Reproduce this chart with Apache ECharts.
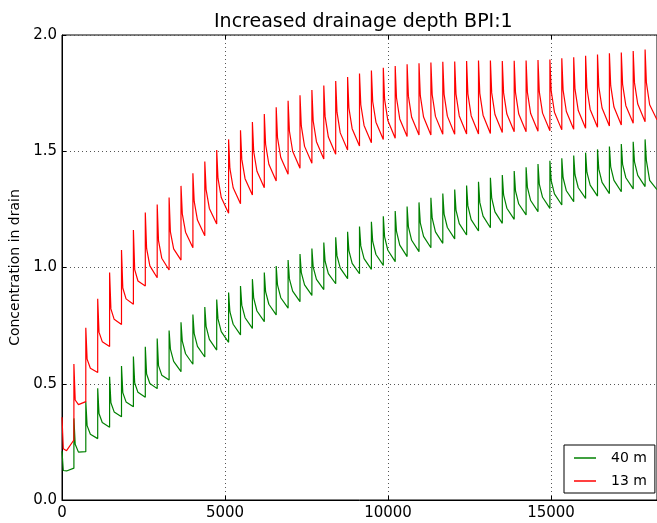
<!DOCTYPE html>
<html>
<head>
<meta charset="utf-8">
<script src="https://cdn.jsdelivr.net/npm/echarts@6/dist/echarts.min.js"></script>
<style>
html,body{margin:0;padding:0;background:#fff;}
#chart{width:657px;height:523px;}
</style>
</head>
<body>
<div id="chart"></div>
<script>
// Sampling days within each yearly cycle (spike at day 0, next spike at day 365)
const dayOffsets = [0, 40, 140, 365];
const yearLength = 365;

// 13 m series: per-year values at day 0 (peak), 40, 140, 365 (just before next spike)
const redPeak = [0.356,0.585,0.741,0.866,0.978,1.075,1.161,1.237,1.271,1.301,1.351,1.405,1.456,1.505,1.551,1.590,1.626,1.660,1.689,1.717,1.741,1.763,1.783,1.802,1.819,1.834,1.847,1.859,1.867,1.874,1.878,1.882,1.885,1.886,1.888,1.890,1.890,1.888,1.889,1.890,1.892,1.895,1.900,1.904,1.911,1.916,1.921,1.925,1.931,1.938];
const redD40 = [0.220,0.430,0.606,0.722,0.822,0.912,0.991,1.082,1.116,1.153,1.231,1.284,1.335,1.383,1.426,1.465,1.499,1.530,1.559,1.587,1.609,1.630,1.650,1.668,1.686,1.700,1.714,1.723,1.730,1.737,1.739,1.743,1.745,1.746,1.747,1.749,1.751,1.751,1.752,1.753,1.755,1.759,1.763,1.767,1.772,1.778,1.782,1.788,1.794,1.795];
const redD140 = [0.212,0.410,0.567,0.681,0.777,0.865,0.942,1.007,1.040,1.080,1.152,1.204,1.254,1.301,1.343,1.382,1.414,1.444,1.473,1.500,1.521,1.541,1.561,1.579,1.597,1.611,1.625,1.632,1.639,1.646,1.647,1.650,1.651,1.652,1.653,1.655,1.658,1.660,1.660,1.662,1.664,1.668,1.671,1.675,1.680,1.686,1.690,1.696,1.703,1.700];
const redEnd = [0.258,0.423,0.548,0.660,0.755,0.842,0.920,0.956,0.989,1.032,1.085,1.137,1.187,1.233,1.274,1.312,1.343,1.372,1.401,1.427,1.448,1.467,1.487,1.505,1.523,1.537,1.551,1.556,1.563,1.570,1.570,1.573,1.573,1.574,1.574,1.576,1.581,1.584,1.584,1.586,1.588,1.592,1.595,1.599,1.603,1.609,1.613,1.620,1.627,1.635];

// 40 m series
const greenPeak = [0.210,0.351,0.423,0.481,0.530,0.576,0.617,0.659,0.695,0.729,0.764,0.798,0.830,0.862,0.892,0.920,0.950,0.978,1.006,1.032,1.058,1.082,1.107,1.130,1.154,1.176,1.197,1.220,1.243,1.262,1.280,1.300,1.318,1.335,1.353,1.369,1.386,1.398,1.415,1.431,1.445,1.459,1.470,1.482,1.494,1.508,1.520,1.531,1.541,1.551];
const greenD40 = [0.127,0.240,0.320,0.372,0.418,0.462,0.503,0.542,0.578,0.649,0.683,0.716,0.747,0.779,0.810,0.838,0.868,0.896,0.925,0.951,0.978,1.002,1.027,1.050,1.073,1.093,1.112,1.132,1.155,1.175,1.192,1.212,1.230,1.247,1.265,1.280,1.298,1.312,1.330,1.345,1.359,1.374,1.386,1.399,1.410,1.423,1.433,1.444,1.454,1.460];
const greenD140 = [0.125,0.206,0.283,0.333,0.379,0.422,0.463,0.501,0.537,0.596,0.629,0.661,0.691,0.724,0.756,0.784,0.813,0.842,0.870,0.898,0.925,0.949,0.974,0.997,1.018,1.038,1.056,1.074,1.096,1.117,1.134,1.153,1.172,1.189,1.206,1.221,1.239,1.255,1.273,1.288,1.302,1.317,1.330,1.343,1.354,1.366,1.375,1.386,1.396,1.375];
const greenEnd = [0.137,0.208,0.264,0.313,0.358,0.401,0.442,0.479,0.516,0.552,0.584,0.615,0.645,0.678,0.710,0.738,0.767,0.796,0.825,0.853,0.880,0.905,0.930,0.952,0.973,0.992,1.009,1.025,1.047,1.068,1.085,1.104,1.123,1.140,1.157,1.171,1.190,1.207,1.226,1.240,1.254,1.269,1.283,1.297,1.307,1.318,1.326,1.338,1.348,1.335];

const seriesNames = ['40 m', '13 m'];
const xTicks = [0, 5000, 10000, 15000];
const yTicks = ['0.0', '0.5', '1.0', '1.5', '2.0'];

function buildPoints(peak, d40, d140, end) {
  const pts = [];
  for (let i = 0; i < peak.length; i++) {
    const t0 = i * yearLength;
    const vals = [peak[i], d40[i], d140[i], end[i]];
    for (let k = 0; k < dayOffsets.length; k++) {
      pts.push([t0 + dayOffsets[k], vals[k]]);
    }
  }
  return pts;
}

const greenData = buildPoints(greenPeak, greenD40, greenD140, greenEnd);
const redData = buildPoints(redPeak, redD40, redD140, redEnd);

const FONT = 'DejaVu Sans';
const chart = echarts.init(document.getElementById('chart'), null, {renderer: 'canvas'});

const gridLine = {show: true, lineStyle: {color: '#555', width: 1, type: [1, 3]}};

chart.setOption({
  animation: false,
  backgroundColor: '#fff',
  title: {
    text: 'Increased drainage depth BPI:1',
    left: 209, top: 8,
    textStyle: {fontFamily: FONT, fontSize: 19, fontWeight: 'normal', color: '#000'}
  },
  grid: {left: 62, top: 35, width: 600, height: 465, show: true, borderColor: '#000', borderWidth: 1, backgroundColor: 'transparent'},
  legend: {
    data: [
      {name: seriesNames[0], icon: 'rect'},
      {name: seriesNames[1], icon: 'rect'}
    ],
    orient: 'vertical',
    left: 564, top: 445,
    backgroundColor: '#fff',
    borderColor: '#000', borderWidth: 1, borderRadius: 0,
    padding: [6, 8, 5, 10],
    itemWidth: 22, itemHeight: 1.5, itemGap: 9,
    textStyle: {fontFamily: FONT, fontSize: 14, color: '#000', padding: [0, 0, 0, 10]}
  },
  xAxis: [{
    type: 'value', min: 0, max: 18250, interval: 5000,
    axisLine: {show: true, lineStyle: {color: '#000'}},
    axisTick: {show: true, inside: true, length: 4, lineStyle: {color: '#000'}},
    axisLabel: {
      fontFamily: FONT, fontSize: 15, color: '#000', margin: 6, showMaxLabel: false,
      formatter: v => xTicks.indexOf(v) >= 0 ? String(v) : ''
    },
    splitLine: gridLine
  }, {
    type: 'value', position: 'top', min: 0, max: 18250, interval: 5000,
    axisLine: {show: false},
    axisTick: {show: true, inside: true, length: 4, lineStyle: {color: '#000'}},
    axisLabel: {show: false}, splitLine: {show: false}
  }],
  yAxis: {
    type: 'value', min: 0, max: 2, interval: 0.5,
    name: 'Concentration in drain', nameLocation: 'middle', nameGap: 38,
    nameTextStyle: {fontFamily: FONT, fontSize: 14, color: '#000'},
    axisLine: {show: true, lineStyle: {color: '#000'}},
    axisTick: {show: true, inside: true, length: 4, lineStyle: {color: '#000'}},
    axisLabel: {
      fontFamily: FONT, fontSize: 15, color: '#000', margin: 5,
      formatter: v => yTicks[Math.round(v / 0.5)]
    },
    splitLine: gridLine
  },
  series: [
    {name: seriesNames[0], type: 'line', data: greenData, showSymbol: false, symbol: 'none',
     lineStyle: {color: '#008000', width: 1.2}, itemStyle: {color: '#008000'}, z: 3},
    {name: seriesNames[1], type: 'line', data: redData, showSymbol: false, symbol: 'none',
     lineStyle: {color: '#ff0000', width: 1.2}, itemStyle: {color: '#ff0000'}, z: 4}
  ]
});
</script>
</body>
</html>
